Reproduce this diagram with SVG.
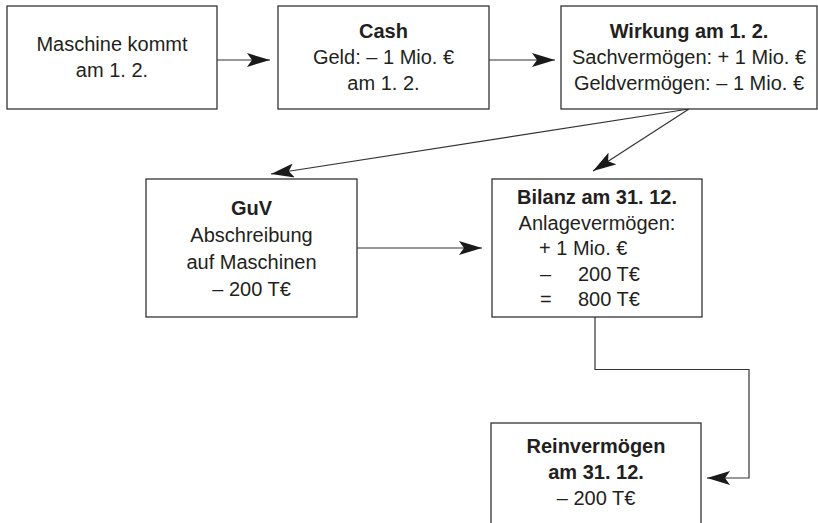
<svg xmlns="http://www.w3.org/2000/svg" width="818" height="523" viewBox="0 0 818 523">
<style>
.box{fill:#fff;stroke:#333;stroke-width:1.3}
.t{font-family:"Liberation Sans",Arial,sans-serif;font-size:20px;fill:#231f20;text-anchor:middle}
.l{text-anchor:start}
.b{font-weight:bold}
.c{fill:none;stroke:#333;stroke-width:1.2}
</style>
<defs>
<marker id="ah" markerUnits="userSpaceOnUse" markerWidth="24" markerHeight="14" viewBox="0 0 24 14" refX="23" refY="7" orient="auto">
<path d="M0,0 L23,7 L0,14 L5,7 Z" fill="#1a1a1a"/>
</marker>
</defs>
<rect width="818" height="523" fill="#fff"/>
<g id="connectors">
<line class="c" x1="217" y1="60" x2="270" y2="60" marker-end="url(#ah)"/>
<line class="c" x1="489" y1="60" x2="555" y2="60" marker-end="url(#ah)"/>
<line class="c" x1="689" y1="109" x2="271" y2="174" marker-end="url(#ah)"/>
<line class="c" x1="689" y1="109" x2="593" y2="171" marker-end="url(#ah)"/>
<line class="c" x1="357" y1="248" x2="482" y2="248" marker-end="url(#ah)"/>
<polyline class="c" points="595,317 595,369.5 749,369.5 749,478 707,478" marker-end="url(#ah)"/>
</g>
<g id="node-maschine">
<rect class="box" x="7" y="6" width="210" height="103"/>
<text class="t" x="112" y="51">Maschine kommt</text>
<text class="t" x="112" y="77">am 1. 2.</text>
</g>
<g id="node-cash">
<rect class="box" x="278" y="6" width="211" height="103"/>
<text class="t b" x="383.5" y="37.5">Cash</text>
<text class="t" x="383.5" y="63.5">Geld: – 1 Mio. €</text>
<text class="t" x="383.5" y="89.5">am 1. 2.</text>
</g>
<g id="node-wirkung">
<rect class="box" x="561" y="6" width="256" height="103"/>
<text class="t b" x="689" y="37.5">Wirkung am 1. 2.</text>
<text class="t" x="689" y="63.5">Sachvermögen: + 1 Mio. €</text>
<text class="t" x="689" y="89.5">Geldvermögen: – 1 Mio. €</text>
</g>
<g id="node-guv">
<rect class="box" x="146" y="179" width="211" height="138"/>
<text class="t b" x="251.5" y="214.5">GuV</text>
<text class="t" x="251.5" y="241.5">Abschreibung</text>
<text class="t" x="251.5" y="268.5">auf Maschinen</text>
<text class="t" x="251.5" y="295.5">– 200 T€</text>
</g>
<g id="node-bilanz">
<rect class="box" x="492" y="179" width="210" height="138"/>
<text class="t b" x="597" y="204">Bilanz am 31. 12.</text>
<text class="t" x="597" y="229.5">Anlagevermögen:</text>
<text class="t l" x="539" y="255">+ 1 Mio. €</text>
<text class="t l" x="540" y="280.5">–</text>
<text class="t l" x="578" y="280.5">200 T€</text>
<text class="t l" x="540" y="306">=</text>
<text class="t l" x="578" y="306">800 T€</text>
</g>
<g id="node-reinvermoegen">
<rect class="box" x="491" y="423" width="210" height="110"/>
<text class="t b" x="596" y="453">Reinvermögen</text>
<text class="t b" x="596" y="479">am 31. 12.</text>
<text class="t" x="596" y="505">– 200 T€</text>
</g>
</svg>
